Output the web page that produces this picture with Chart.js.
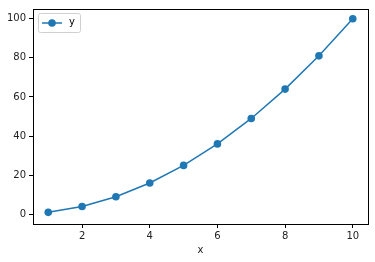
<!DOCTYPE html>
<html><head><meta charset="utf-8">
<script src="https://cdn.jsdelivr.net/npm/chart.js@4"></script>
<style>html,body{margin:0;padding:0;background:#fff}#wrap{width:375px;height:262px}</style>
</head><body><div id="wrap"><canvas id="c" width="375" height="262"></canvas></div>
<script>
const xValues = [1, 2, 3, 4, 5, 6, 7, 8, 9, 10];
const yValues = [1, 4, 9, 16, 25, 36, 49, 64, 81, 100];
const xTicks = [2, 4, 6, 8, 10];
const yTicks = [0, 20, 40, 60, 80, 100];
const seriesLabel = 'y';
const xLabel = 'x';
const color = '#1f77b4';
const FONT = 'DejaVu Sans';

const frame = {
  id: 'frame',
  afterDraw(chart) {
    const {ctx, chartArea: a} = chart;
    ctx.save();
    ctx.strokeStyle = '#000';
    ctx.lineWidth = 1;
    ctx.strokeRect(Math.round(a.left) + 0.5, Math.round(a.top) + 0.5, Math.round(a.right - a.left), Math.round(a.bottom - a.top));
    // legend
    const bx = a.left + 5, by = a.top + 4, bw = 42, bh = 19;
    ctx.fillStyle = 'rgba(255,255,255,0.8)';
    ctx.strokeStyle = '#d0d0d0';
    ctx.beginPath();
    if (ctx.roundRect) ctx.roundRect(bx + 0.5, by + 0.5, bw, bh, 2); else ctx.rect(bx + 0.5, by + 0.5, bw, bh);
    ctx.fill(); ctx.stroke();
    const ly = by + bh / 2 + 0.5;
    ctx.strokeStyle = color; ctx.lineWidth = 1.5;
    ctx.beginPath(); ctx.moveTo(bx + 4, ly); ctx.lineTo(bx + 24, ly); ctx.stroke();
    ctx.fillStyle = color;
    ctx.beginPath(); ctx.arc(bx + 14, ly, 3.8, 0, Math.PI * 2); ctx.fill();
    ctx.fillStyle = '#000';
    ctx.font = '10px "' + FONT + '"';
    ctx.textBaseline = 'middle';
    ctx.fillText(chart.data.datasets[0].label, bx + 31, ly - 1);
    ctx.restore();
  }
};

new Chart(document.getElementById('c'), {
  type: 'line',
  data: {
    datasets: [{
      label: seriesLabel,
      data: xValues.map((x, i) => ({x: x, y: yValues[i]})),
      borderColor: color,
      backgroundColor: color,
      borderWidth: 1.5,
      pointRadius: 3.8,
      pointBorderWidth: 0,
      pointBackgroundColor: color,
      tension: 0,
      fill: false
    }]
  },
  plugins: [frame],
  options: {
    responsive: false,
    animation: false,
    events: [],
    layout: {padding: {left: 0, right: 7, top: 6, bottom: 0}},
    plugins: {legend: {display: false}, tooltip: {enabled: false}},
    scales: {
      x: {
        type: 'linear',
        min: 0.55, max: 10.45,
        afterBuildTicks(s) { s.ticks = xTicks.map(v => ({value: v})); },
        afterFit(s) { s.height = 38; },
        grid: {drawOnChartArea: false, drawTicks: true, tickLength: 4, color: '#000', tickWidth: 1},
        border: {display: false},
        ticks: {color: '#222', font: {family: FONT, size: 10}, padding: 2, maxRotation: 0, autoSkip: false},
        title: {display: true, text: xLabel, color: '#222', font: {family: FONT, size: 10}, padding: {top: 2, bottom: 6}}
      },
      y: {
        type: 'linear',
        min: -4.95, max: 104.95,
        afterBuildTicks(s) { s.ticks = yTicks.map(v => ({value: v})); },
        afterFit(s) { s.width = 33; },
        grid: {drawOnChartArea: false, drawTicks: true, tickLength: 4, color: '#000', tickWidth: 1},
        border: {display: false},
        ticks: {color: '#222', font: {family: FONT, size: 10}, padding: 3, autoSkip: false}
      }
    }
  }
});
</script></body></html>
